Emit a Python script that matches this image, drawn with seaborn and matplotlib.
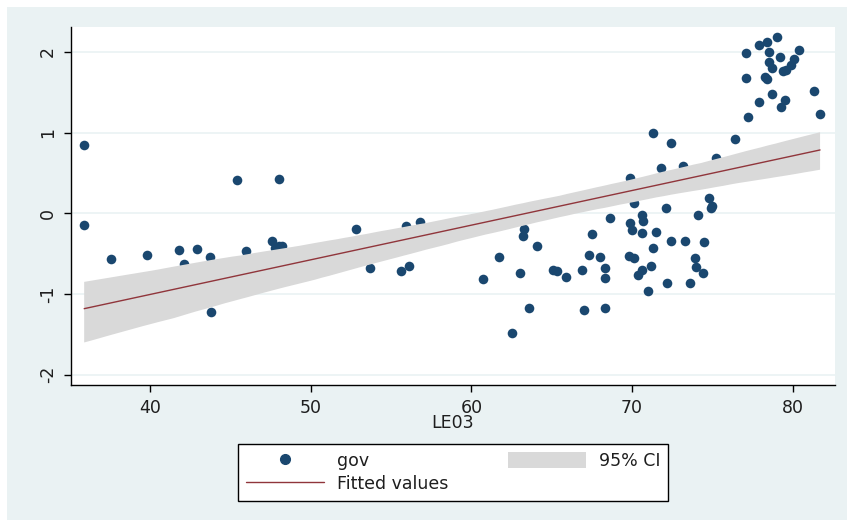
import matplotlib
matplotlib.use("Agg")
import matplotlib.pyplot as plt
import seaborn as sns
import numpy as np
import pandas as pd
from matplotlib.lines import Line2D
from matplotlib.patches import Patch, Rectangle

# ---- data ----
LE03 = [35.9, 35.9, 37.6, 39.8, 41.8, 42.1, 42.9, 43.7, 43.8, 45.4, 46.0,
        47.6, 47.8, 48.0, 48.2, 48.0, 52.8, 53.7, 55.6, 55.9, 56.1, 56.8,
        60.7, 61.7, 62.5, 63.0, 63.2, 63.3, 63.6, 64.1, 65.1, 65.3, 65.9,
        66.9, 67.0, 67.3, 67.5, 68.0, 68.3, 68.3, 68.3, 68.6, 69.8, 69.9,
        69.9, 70.0, 70.1, 70.1, 70.4, 70.6, 70.6, 70.6, 70.7, 71.0, 71.2,
        71.3, 71.3, 71.5, 71.8, 72.1, 72.2, 72.4, 72.4, 73.2, 73.3, 73.6,
        73.9, 74.0, 74.1, 74.4, 74.5, 74.8, 74.9, 75.0, 75.2,
        76.4, 77.1, 77.1, 77.2, 77.9, 77.9, 78.3, 78.4, 78.4, 78.5, 78.5,
        78.7, 78.7, 79.0, 79.2, 79.3, 79.4, 79.5, 79.6, 79.9, 80.1, 80.4,
        81.3, 81.7]
gov = [0.85, -0.14, -0.57, -0.52, -0.455, -0.63, -0.44, -0.54, -1.22, 0.41, -0.47,
       -0.34, -0.43, -0.40, -0.40, 0.43, -0.19, -0.68, -0.72, -0.16, -0.65, -0.11,
       -0.81, -0.54, -1.49, -0.74, -0.28, -0.20, -1.18, -0.40, -0.70, -0.72, -0.79,
       -0.70, -1.20, -0.52, -0.26, -0.54, -0.68, -0.80, -1.17, -0.06, -0.53, -0.12,
       0.44, -0.21, -0.55, 0.13, -0.77, -0.02, -0.25, -0.70, -0.10, -0.97, -0.66,
       1.00, -0.43, -0.23, 0.56, 0.07, -0.86, 0.87, -0.34, 0.59, -0.34, -0.87,
       -0.56, -0.67, -0.02, -0.74, -0.36, 0.19, 0.07, 0.09, 0.69,
       0.92, 1.99, 1.68, 1.20, 2.09, 1.38, 1.69, 2.12, 1.66, 2.00, 1.88,
       1.80, 1.48, 2.18, 1.94, 1.32, 1.77, 1.41, 1.78, 1.84, 1.91, 2.03,
       1.52, 1.23]

x_ticks = [40, 50, 60, 70, 80]
y_ticks = [-2, -1, 0, 1, 2]
x_label = "LE03"
legend_labels = ["gov", "Fitted values", "95% CI"]

df = pd.DataFrame({"LE03": LE03, "gov": gov})

# ---- style ----
BG = "#eaf2f3"
NAVY = "#1a476f"
MAROON = "#90353b"
CIGRAY = "#d9d9d9"
TXT = "#1e1e1e"
FS = 12.5

sns.set_style("white")
plt.rcParams["font.family"] = ["DejaVu Sans"]
plt.rcParams["axes.unicode_minus"] = False

W, H = 847, 520
fig = plt.figure(figsize=(W / 100, H / 100), dpi=100, facecolor="white")
fig.patches.append(Rectangle((7 / W, 0), 1 - 7 / W, 1 - 7 / H, transform=fig.transFigure,
                             facecolor=BG, edgecolor="none", zorder=-10))

L, R, T, B = 71, 835, 27, 385
ax = fig.add_axes([L / W, 1 - B / H, (R - L) / W, (B - T) / H])
ax.set_facecolor("white")

sns.scatterplot(data=df, x="LE03", y="gov", color=NAVY, s=48, linewidth=0,
                marker="o", ax=ax, zorder=2, legend=False)

n_before = len(ax.collections)
sns.regplot(data=df, x="LE03", y="gov", scatter=False, ci=88, n_boot=1000, seed=3,
            ax=ax, truncate=True, line_kws=dict(color=MAROON, lw=1.0, zorder=4))
for coll in ax.collections[n_before:]:
    coll.set_facecolor(CIGRAY)
    coll.set_edgecolor("none")
    coll.set_alpha(1)
    coll.set_zorder(3)

ax.set_xlim(35.08, 82.63)
ax.set_ylim(-2.13, 2.31)
ax.set_xticks(x_ticks)
ax.set_yticks(y_ticks)
ax.set_yticklabels([str(v) for v in y_ticks], rotation=90, va="center")
ax.grid(axis="y", color=BG, lw=1.2, zorder=0)
ax.grid(axis="x", visible=False)
ax.set_axisbelow(True)

for s in ["top", "right"]:
    ax.spines[s].set_visible(False)
for s in ["left", "bottom"]:
    ax.spines[s].set_color("black")
    ax.spines[s].set_linewidth(1.0)

ax.tick_params(axis="both", which="major", direction="out", length=5, width=1,
               color="black", labelsize=FS, labelcolor=TXT, left=True, bottom=True)
ax.tick_params(axis="x", pad=5)
ax.tick_params(axis="y", pad=5)
ax.set_xlabel(x_label, fontsize=FS, color=TXT, labelpad=-2)
ax.set_ylabel("")

handles = [
    Line2D([], [], marker="o", color=NAVY, linestyle="none", markersize=7),
    Line2D([], [], color=MAROON, lw=1.0),
    Patch(facecolor=CIGRAY, edgecolor="none"),
]
leg = fig.legend(handles, legend_labels, ncol=2, loc="center", mode="expand",
                 bbox_to_anchor=(238 / W, 1 - 501 / H, 430 / W, 57 / H),
                 frameon=True, fancybox=False,
                 fontsize=FS, handlelength=4.5, handleheight=1.0, handletextpad=0.75,
                 columnspacing=2.0, labelspacing=0.3, borderpad=0.45, borderaxespad=0)
leg.get_frame().set_edgecolor("black")
leg.get_frame().set_linewidth(1.0)
leg.get_frame().set_facecolor("white")
leg.get_frame().set_alpha(1)
for t in leg.get_texts():
    t.set_color(TXT)

fig.savefig("out.png", dpi=100, facecolor=fig.get_facecolor())
